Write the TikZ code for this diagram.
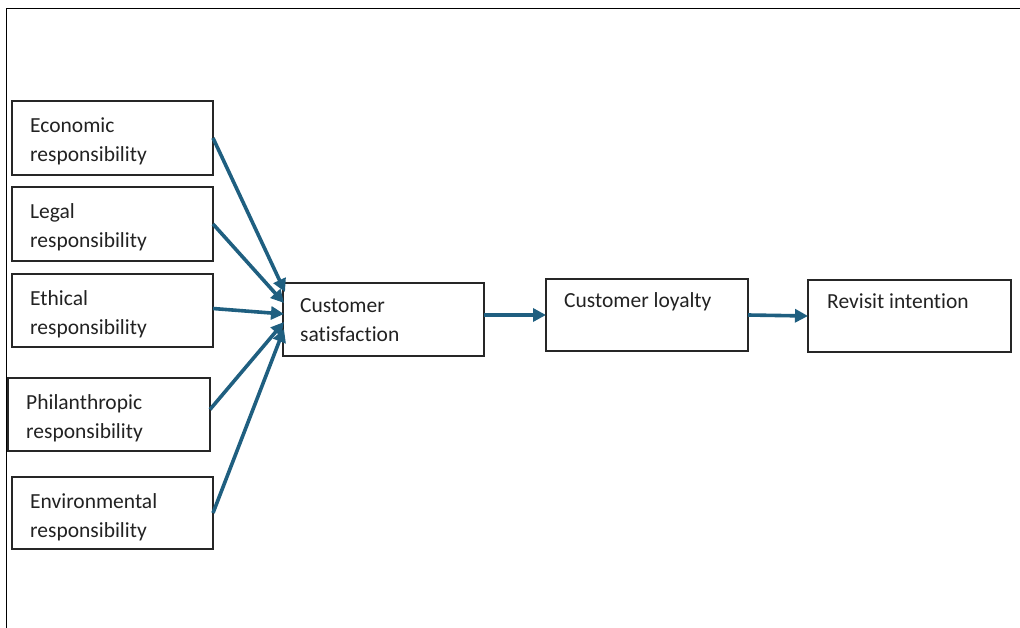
\documentclass[tikz,border=0pt]{standalone}
\usepackage{fontspec}
\setmainfont{Carlito}[Ligatures={NoCommon,NoRare,NoDiscretionary}]
\usetikzlibrary{arrows.meta,calc}
\definecolor{arrowblue}{RGB}{31,95,128}
\definecolor{textgray}{RGB}{34,34,34}
\begin{document}
\begin{tikzpicture}[x=1pt,y=-1pt,
  box/.style={draw=black!85,line width=1.1pt,anchor=north west,inner sep=0pt,outer sep=0pt},
  lbl/.style={anchor=north west,inner sep=0pt,align=left,text=textgray,font=\fontsize{21.5}{29}\selectfont},
  conn/.style={draw=arrowblue,line width=3.6pt,-{Triangle[length=13pt,width=13pt]}}]
\useasboundingbox (0,0) rectangle (1020,628);
% outer frame (top and left only)
\draw[line width=1.4pt,black] (1020,8.5) -- (6.5,8.5) -- (6.5,628);
% boxes
\node[box,minimum width=201pt,minimum height=74pt] (eco) at (12,101) {};
\node[box,minimum width=201pt,minimum height=74pt] (leg) at (12,187) {};
\node[box,minimum width=201pt,minimum height=73pt] (eth) at (12,274) {};
\node[box,minimum width=202pt,minimum height=73pt] (phi) at (8,378) {};
\node[box,minimum width=201pt,minimum height=72pt] (env) at (12,477) {};
\node[box,minimum width=201pt,minimum height=73pt] (sat) at (283,283) {};
\node[box,minimum width=202pt,minimum height=72pt] (loy) at (546,279) {};
\node[box,minimum width=203pt,minimum height=72pt] (rev) at (808,280) {};
% labels
\node[lbl] (ecot) at (30,111.7) {\strut Economic\\responsibility};
\node[lbl] (legt) at (30,197.7) {\strut Legal\\responsibility};
\node[lbl] (etht) at (30,284.7) {\strut Ethical\\responsibility};
\node[lbl] (phit) at (26,388.7) {\strut Philanthropic\\responsibility};
\node[lbl] (envt) at (30,487.7) {\strut Environmental\\responsibility};
\node[lbl] (satt) at (300,291.7) {\strut Customer\\satisfaction};
\node[lbl] (loyt) at (564,286.7) {\strut Customer loyalty};
\node[lbl] (revt) at (827,287.7) {\strut Revisit intention};
% connectors
\draw[conn] (eco.east) -- ($(sat.north west)+(2,9)$);
\draw[conn] (leg.east) -- ($(sat.north west)+(1,20)$);
\draw[conn] ([yshift=2pt]eth.east) -- ($(sat.north west)+(1,31)$);
\draw[conn] ([yshift=5pt]phi.east) -- ($(sat.north west)+(1,39)$);
\draw[conn] (env.east) -- ($(sat.north west)+(1,46)$);
\draw[conn] (sat.east |- loy.west) -- (loy.west);
\draw[conn] (loy.east) -- (rev.west);
\end{tikzpicture}
\end{document}
